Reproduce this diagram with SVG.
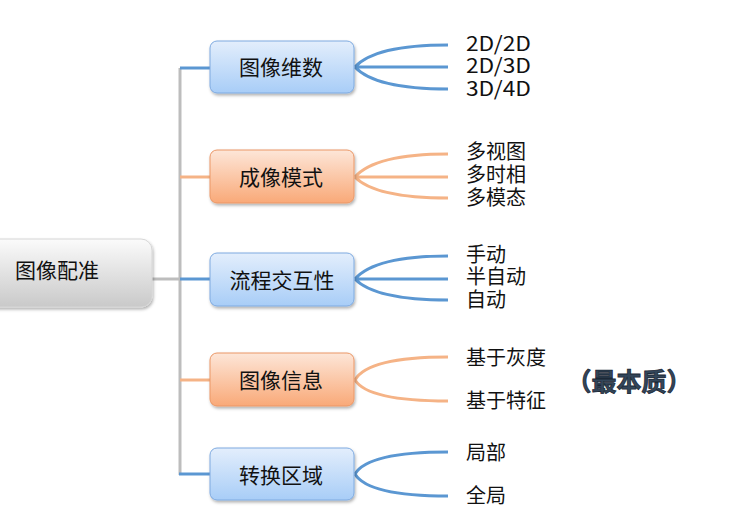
<svg xmlns="http://www.w3.org/2000/svg" width="747" height="528" viewBox="0 0 747 528">
<defs>
<linearGradient id="gBlue" x1="0" y1="0" x2="0" y2="1">
<stop offset="0" stop-color="#e3eefc"/>
<stop offset="1" stop-color="#a8cdf7"/>
</linearGradient>
<linearGradient id="gOrange" x1="0" y1="0" x2="0" y2="1">
<stop offset="0" stop-color="#fde6d8"/>
<stop offset="1" stop-color="#f9a978"/>
</linearGradient>
<linearGradient id="gGray" x1="0" y1="0" x2="0" y2="1">
<stop offset="0" stop-color="#fbfbfb"/>
<stop offset="1" stop-color="#c9c9c9"/>
</linearGradient>
<filter id="sh" x="-10%" y="-20%" width="130%" height="150%">
<feDropShadow dx="1" dy="2" stdDeviation="1.5" flood-color="#000" flood-opacity="0.3"/>
</filter>
</defs>
<style>
text{font-family:"Noto Sans CJK SC","Microsoft YaHei",sans-serif;fill:#111;}
.nt{font-size:21px;text-anchor:middle;dominant-baseline:central;}
.lf{font-size:20px;dominant-baseline:central;}
.blue{fill:url(#gBlue);stroke:#7eaae0;stroke-width:1;}
.orange{fill:url(#gOrange);stroke:#eb9766;stroke-width:1;}
.lb{stroke:#5b97d2;stroke-width:3;fill:none;}
.lo{stroke:#f5b386;stroke-width:3;fill:none;}
.lg{stroke:#bdbdbd;stroke-width:3;fill:none;}
</style>
<g id="connectors">
<path class="lg" d="M180,68 V475"/>
<path class="lg" d="M152,279 H180"/>
<path class="lb" d="M180,68 H211"/>
<path class="lo" d="M180,177 H211"/>
<path class="lb" d="M180,279 H211"/>
<path class="lo" d="M180,380 H211"/>
<path class="lb" d="M179,474 H211"/>
<path class="lb" d="M355,67 Q375,45 448,45 M355,67 H448 M355,67 Q375,89 448,89"/>
<path class="lo" d="M355,177 Q375,154 448,154 M355,177 H448 M355,177 Q375,198 448,198"/>
<path class="lb" d="M355,279 Q375,256 448,256 M355,279 H448 M355,279 Q375,300 448,300"/>
<path class="lo" d="M355,380 Q368,357 448,357 M355,380 Q368,401 448,401"/>
<path class="lb" d="M355,474 Q368,452 448,452 M355,474 Q368,496 448,496"/>
</g>
<g id="root">
<rect x="-20" y="239" width="172" height="68" rx="11" fill="url(#gGray)" stroke="#d6d6d6" filter="url(#sh)"/>
<text x="15" y="269" style="font-size:21px;dominant-baseline:central;">图像配准</text>
</g>
<g id="n1">
<rect class="blue" x="210" y="41" width="144" height="52" rx="7" filter="url(#sh)"/>
<text class="nt" x="281" y="66">图像维数</text>
</g>
<g id="n2">
<rect class="orange" x="210" y="150" width="144" height="53" rx="7" filter="url(#sh)"/>
<text class="nt" x="281" y="176">成像模式</text>
</g>
<g id="n3">
<rect class="blue" x="210" y="253" width="144" height="53" rx="7" filter="url(#sh)"/>
<text class="nt" x="282" y="279">流程交互性</text>
</g>
<g id="n4">
<rect class="orange" x="210" y="353" width="144" height="53" rx="7" filter="url(#sh)"/>
<text class="nt" x="281" y="379">图像信息</text>
</g>
<g id="n5">
<rect class="blue" x="210" y="448" width="144" height="52" rx="7" filter="url(#sh)"/>
<text class="nt" x="281" y="474">转换区域</text>
</g>
<g id="leaves">
<text class="lf" x="466" y="42" textLength="65" lengthAdjust="spacingAndGlyphs">2D/2D</text>
<text class="lf" x="466" y="64" textLength="65" lengthAdjust="spacingAndGlyphs">2D/3D</text>
<text class="lf" x="466" y="87" textLength="65" lengthAdjust="spacingAndGlyphs">3D/4D</text>
<text class="lf" x="466" y="150">多视图</text>
<text class="lf" x="466" y="173">多时相</text>
<text class="lf" x="466" y="196">多模态</text>
<text class="lf" x="466" y="253">手动</text>
<text class="lf" x="466" y="275">半自动</text>
<text class="lf" x="466" y="298">自动</text>
<text class="lf" x="466" y="356">基于灰度</text>
<text class="lf" x="466" y="399">基于特征</text>
<text class="lf" x="466" y="451">局部</text>
<text class="lf" x="466" y="494">全局</text>
</g>
<g id="note">
<text x="629" y="380" style="font-size:25px;font-weight:bold;text-anchor:middle;dominant-baseline:central;fill:#33465a;stroke:#1c2836;stroke-width:0.8;">（最本质）</text>
</g>
</svg>
